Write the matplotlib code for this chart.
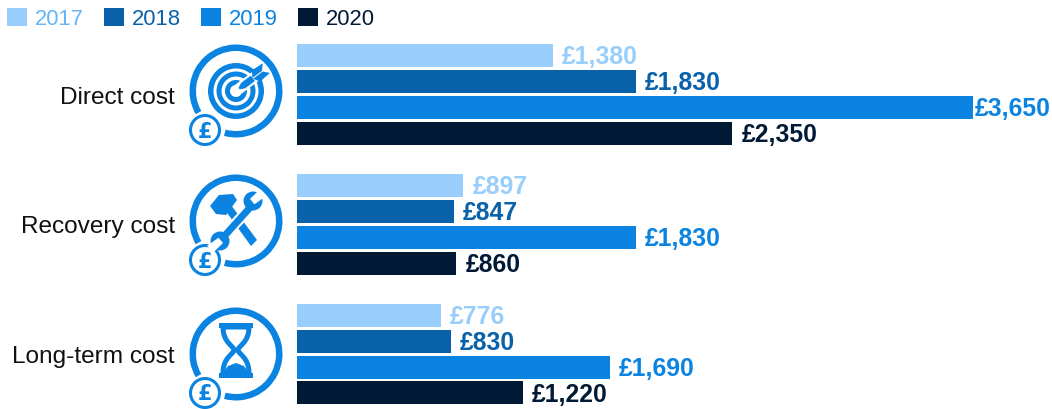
import numpy as np
import matplotlib
matplotlib.use('Agg')
from matplotlib import pyplot as plt
from matplotlib.patches import Wedge, Circle, Polygon, PathPatch, Rectangle
from matplotlib.path import Path
from matplotlib.transforms import Affine2D

plt.rcParams['font.family'] = ['Liberation Sans', 'DejaVu Sans']

# Data
categories = ['Direct cost', 'Recovery cost', 'Long-term cost']
years = ['2017', '2018', '2019', '2020']
values_2017 = [1380, 897, 776]
values_2018 = [1830, 847, 830]
values_2019 = [3650, 1830, 1690]
values_2020 = [2350, 860, 1220]
series = [values_2017, values_2018, values_2019, values_2020]
colors = ['#99CDFB', '#0861A9', '#0B83E0', '#001A35']
legend_text = ['#66B4F7', '#0861A9', '#0B83E0', '#001A35']
BLUE = '#0B83E0'

W, H = 1052, 410
fig = plt.figure(figsize=(W / 100, H / 100), dpi=100)

# Bars: one group every 130 px, first group centred at y=95 px
ax = fig.add_axes([297 / W, 0, (W - 297) / W, 1])
ax.set_xlim(0, (W - 297) / 0.1852)
ax.set_ylim((H - 95) / 130, -95 / 130)
ypos = np.arange(len(categories))
for i, vals in enumerate(series):
    offs = ypos + (i - 1.5) * 0.2
    ax.barh(offs, vals, height=23 / 130, color=colors[i], label=years[i])
    for y, v in zip(offs, vals):
        pad = 11 if v == max(values_2019) else 50
        ax.text(v + pad, y + 0.006, '£{:,}'.format(v), color=colors[i], fontsize=17.8,
                fontweight='bold', va='center', ha='left')
ax.set_yticks(ypos)
ax.set_yticklabels(categories, fontsize=17.6, color='#111111')
ax.tick_params(axis='y', length=0, pad=88)
ax.set_xticks([])
for s in ax.spines.values():
    s.set_visible(False)

# Legend
h, l = ax.get_legend_handles_labels()
leg = fig.legend(h, l, loc='upper left', bbox_to_anchor=(7 / W, 1 - 8.5 / H), ncol=4,
                 frameon=False, fontsize=15.8, borderpad=0, borderaxespad=0,
                 handlelength=0.91, handleheight=0.91, handletextpad=0.36,
                 columnspacing=0.92, labelcolor=legend_text)

# Icons, in pixels, y up
ic = fig.add_axes([0, 0, 1, 1], facecolor='none')
ic.set_xlim(0, W)
ic.set_ylim(0, H)
ic.axis('off')


def add(patch, cx, cy):
    patch.set_transform(Affine2D().translate(cx, cy) + ic.transData)
    ic.add_patch(patch)


def ring(cx, cy):
    add(Wedge((0, 0), 46.5, 255, 570, width=6.5, color=BLUE, lw=0), cx, cy)
    add(Circle((-31, -39), 14.5, fc='white', ec=BLUE, lw=2.2), cx, cy)
    ic.text(cx - 31, cy - 39.5, '£', color=BLUE, fontsize=15, fontweight='bold',
            family='DejaVu Sans', ha='center', va='center')


def rot(pts, deg, at):
    a = np.radians(deg)
    m = np.array([[np.cos(a), -np.sin(a)], [np.sin(a), np.cos(a)]])
    return np.dot(np.array(pts, float), m.T) + at


def target(cx, cy):
    ring(cx, cy)
    for r, w in [(28, 5.5), (19.5, 5), (11, 5)]:
        add(Wedge((0, 0), r, 0, 360, width=w, color=BLUE, lw=0), cx, cy)
    # shaft with white outline
    add(Polygon(rot([(3, -5.5), (34, -5.5), (34, 5.5), (3, 5.5)], 37, (0, 0)), color='white', lw=0), cx, cy)
    add(Polygon(rot([(4, -1), (9, -3.4), (21, -3.4), (21, 3.4), (9, 3.4), (4, 1)], 37, (0, 0)), color=BLUE, lw=0), cx, cy)
    add(Polygon(rot([(21, 0.5), (33, 0.5), (38, 6), (25, 7)], 37, (0, 0)), color=BLUE, lw=0), cx, cy)
    add(Polygon(rot([(21, -0.5), (33, -0.5), (38, -6), (25, -7)], 37, (0, 0)), color=BLUE, lw=0), cx, cy)


def tools(cx, cy):
    ring(cx, cy)
    # hammer
    add(Polygon([(-11, 11), (-5, 16), (21, -19), (15, -25)], color=BLUE, lw=0), cx, cy)
    add(Polygon([(-26, 15), (-17, 26), (-3, 27), (1, 21), (-10, 6), (-20, 7)], color=BLUE, lw=0), cx, cy)
    # wrench, white gap first
    add(Polygon(rot([(-24, -5.5), (24, -5.5), (24, 5.5), (-24, 5.5)], 48, (1, -1)), color='white', lw=0), cx, cy)
    add(Polygon(rot([(-24, -3.5), (24, -3.5), (24, 3.5), (-24, 3.5)], 48, (1, -1)), color=BLUE, lw=0), cx, cy)
    for at, ang in [((17, 20), 40), ((-16, -20), 220)]:
        add(Circle(at, 9.5, color=BLUE, lw=0), cx, cy)
        add(Polygon(rot([(-1, -3.5), (13, -4.5), (13, 4.5), (-1, 3.5)], ang, at), color='white', lw=0), cx, cy)


def hourglass(cx, cy):
    ring(cx, cy)
    C4, L, M, Z = Path.CURVE4, Path.LINETO, Path.MOVETO, Path.CLOSEPOLY
    verts = [(-13, 27), (-13, 11), (-2, 8), (-2, 4), (-2, 0), (-13, -3), (-13, -19),
             (13, -19), (13, -3), (2, 0), (2, 4), (2, 8), (13, 11), (13, 27), (-13, 27)]
    codes = [M, C4, C4, C4, C4, C4, C4, L, C4, C4, C4, C4, C4, C4, Z]
    add(PathPatch(Path(verts, codes), fc='white', ec=BLUE, lw=3.6), cx, cy)
    # sand
    add(Polygon([(-13, -19), (-8, -12), (0, -9), (8, -12), (13, -19)], color=BLUE, lw=0), cx, cy)
    for y in (29, -21):
        add(Rectangle((-17, y - 2.5), 34, 5, color=BLUE, lw=0), cx, cy)


target(236, H - 92)
tools(236, H - 222)
hourglass(236, H - 355)

fig.savefig('out.png', dpi=100)
